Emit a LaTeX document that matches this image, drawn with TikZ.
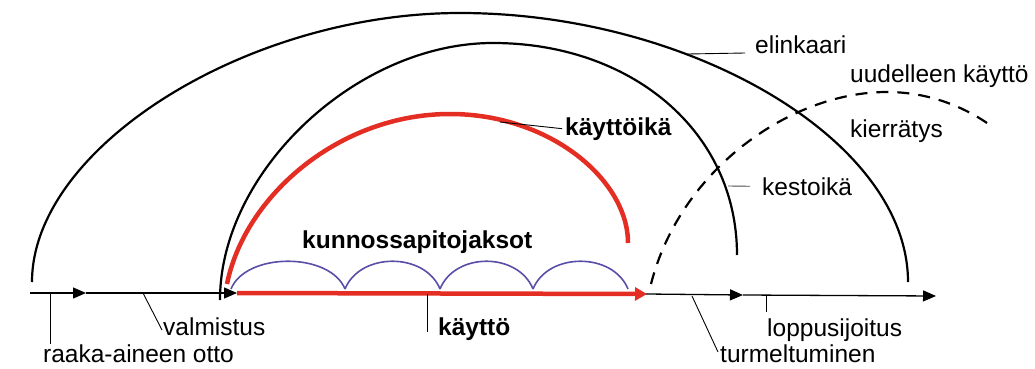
\documentclass[tikz,border=0pt]{standalone}
\usepackage{fontspec}
\setmainfont{Liberation Sans}
\usepackage{xcolor}
\usetikzlibrary{arrows.meta,positioning}
\definecolor{kred}{RGB}{228,45,35}
\definecolor{kblue}{RGB}{88,78,168}

\begin{document}
\begin{tikzpicture}[x=1pt,y=-1pt,
  arcline/.style={line width=2.2pt},
  axisline/.style={line width=1.3pt},
  tip/.style={-{Triangle[length=13pt,width=11pt]}},
  leader/.style={line width=0.9pt},
  lbl/.style={inner sep=0pt,anchor=base west,font=\fontsize{24.5}{28}\selectfont},
  blbl/.style={lbl,font=\fontsize{24.5}{28}\selectfont\bfseries}]
  \useasboundingbox (0,0) rectangle (1035,369);

  % time axis
  \coordinate (start) at (30,293);
  \coordinate (otto) at (86,293);
  \coordinate (valm) at (237,293);
  \coordinate (kend) at (647,294);
  \coordinate (turm) at (743,295);
  \coordinate (end) at (936,296);
  \draw[axisline,tip] (start) -- (otto);
  \draw[axisline,tip] (otto) -- (valm);
  \draw[axisline] (valm) -- (kend);
  \draw[axisline,tip] (kend) -- (turm);
  \draw[axisline,tip] (turm) -- (end);
  \draw[kred,line width=4.5pt,-{Triangle[length=12pt,width=13pt]}] (valm) -- (kend);

  % arcs
  \draw[arcline] (32,282) .. controls (32,148) and (246,13) .. (460,13)
    .. controls (690,13) and (908,140) .. (908,282);
  \draw[arcline] (220,300) .. controls (220,172) and (356,43) .. (493,43)
    .. controls (630,43) and (737,130) .. (737,255);
  \draw[kred,line width=4.5pt] (227,284) .. controls (245,195) and (340,114) .. (450,114)
    .. controls (550,114) and (628,180) .. (628,243);
  \draw[arcline,dash pattern=on 12pt off 9pt] (651,284) .. controls (680,170) and (790,92) .. (887,92)
    .. controls (930,92) and (965,108) .. (987,123);

  % maintenance periods
  \foreach \a/\b in {231/345,345/440,440/533,533/628}
    \draw[kblue,line width=1.6pt] (\a,289) .. controls +(15,-37) and +(-15,-37) .. (\b,289);

  % labels above
  \node[lbl] (elink) at (755,53) {elinkaari};
  \node[lbl] (uud) at (850,82) {uudelleen käyttö};
  \node[lbl] (kierr) at (850,137) {kierrätys};
  \node[lbl] (kest) at (762,195) {kestoikä};
  \node[blbl] (kayik) at (565,135) {käyttöikä};
  \node[blbl] (kunn) at (302,248) {kunnossapitojaksot};

  \coordinate (elinkc) at (688,54);
  \coordinate (kestc) at (728,186);
  \coordinate (kayikc) at (500,122);
  \draw[leader] (elinkc) -- ([xshift=-10pt]elink.base west);
  \draw[leader,black!70] (kestc) -- ([xshift=-12pt]kest.west);
  \draw[leader] (kayikc) -- ([xshift=-3pt]kayik.west);

  % labels below
  \node[lbl] (raak) at (43,362) {raaka-aineen otto};
  \node[lbl] (valml) at (163,335) {valmistus};
  \node[blbl] (kay) at (438,335) {käyttö};
  \node[lbl] (turml) at (720,362) {turmeltuminen};
  \node[lbl] (lopp) at (767,336) {loppusijoitus};

  \coordinate (raakc) at (50,293);
  \coordinate (valmc) at (143,293);
  \coordinate (kayc) at (427,294);
  \coordinate (turmc) at (692,296);
  \coordinate (loppc) at (766,296);
  \draw[leader] (raakc) -- (raakc |- raak.north);
  \draw[leader] (valmc) -- ([shift={(-1pt,5pt)}]valml.base west);
  \draw[leader] (kayc) -- ([yshift=3pt]kayc |- kay.base);
  \draw[leader] (turmc) -- ([shift={(-2pt,10pt)}]turml.base west);
  \draw[leader] (loppc) -- ([yshift=6pt]loppc |- lopp.north);
\end{tikzpicture}
\end{document}
